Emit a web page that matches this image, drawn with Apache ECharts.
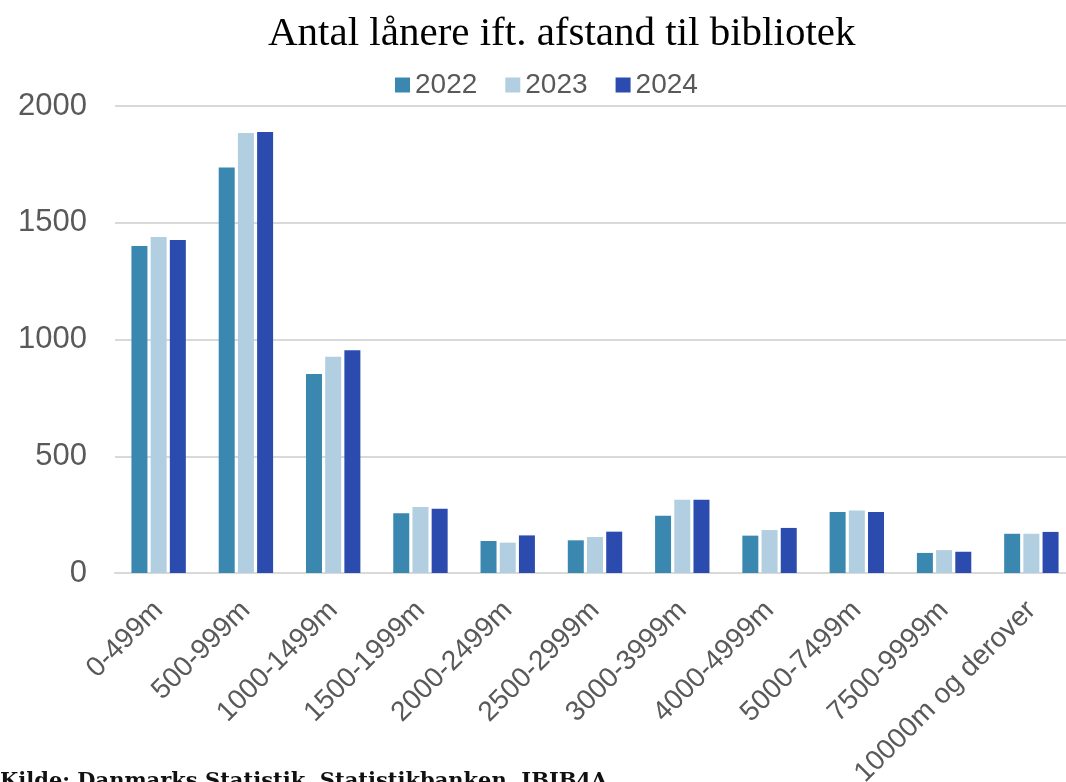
<!DOCTYPE html>
<html><head><meta charset="utf-8">
<script src="https://cdn.jsdelivr.net/npm/echarts@6/dist/echarts.min.js"></script>
<style>html,body{margin:0;padding:0;background:#fff;overflow:hidden}#c{width:1066px;height:782px}</style>
</head><body><div id="c"></div>
<script>
const categories = ['0-499m','500-999m','1000-1499m','1500-1999m','2000-2499m','2500-2999m','3000-3999m','4000-4999m','5000-7499m','7500-9999m','10000m og derover'];
const seriesNames = ['2022','2023','2024'];
const v2022 = [1400,1737,852,256,137,140,245,160,261,86,168];
const v2023 = [1439,1884,926,283,130,154,314,184,268,98,168];
const v2024 = [1426,1889,954,275,161,177,314,193,261,91,176];
const yTicks = [0,500,1000,1500,2000];
const colors = ['#3A88B0','#B1CFE0','#2B4BAF'];
const chart = echarts.init(document.getElementById('c'));
const data = [v2022,v2023,v2024];
chart.setOption({
  animation:false,
  title:{text:'Antal lånere ift. afstand til bibliotek',left:263,top:9,
    textStyle:{fontFamily:'Liberation Serif',fontSize:41,fontWeight:'normal',color:'#000'}},
  legend:{top:66,left:390,itemWidth:15,itemHeight:15,itemGap:28,icon:'rect',
    textStyle:{fontFamily:'Liberation Sans',fontSize:28,color:'#595959'}},
  grid:{left:115,width:960,top:106,height:467,containLabel:false,outerBoundsMode:'none'},
  xAxis:{type:'category',data:categories,
    axisLine:{lineStyle:{color:'#d9d9d9',width:2}},axisTick:{show:false},
    axisLabel:{rotate:45,interval:0,margin:33,fontFamily:'Liberation Sans',fontSize:28,color:'#595959'}},
  yAxis:{type:'value',min:yTicks[0],max:yTicks[yTicks.length-1],interval:500,
    axisLine:{show:false},axisTick:{show:false},
    splitLine:{lineStyle:{color:'#d9d9d9',width:2}},
    axisLabel:{margin:28,fontFamily:'Liberation Sans',fontSize:31,color:'#595959',formatter:v=>String(v)}},
  series: seriesNames.map((n,i)=>({name:n,type:'bar',data:data[i],barWidth:16,barGap:'20%',
    itemStyle:{color:colors[i]}})),
  graphic:[{type:'text',left:0,top:771,style:{text:'Kilde: Danmarks Statistik, Statistikbanken, IBIB4A',
    fontFamily:'DejaVu Serif',fontWeight:'bold',fontSize:21,fill:'#111'}}]
});
</script></body></html>
